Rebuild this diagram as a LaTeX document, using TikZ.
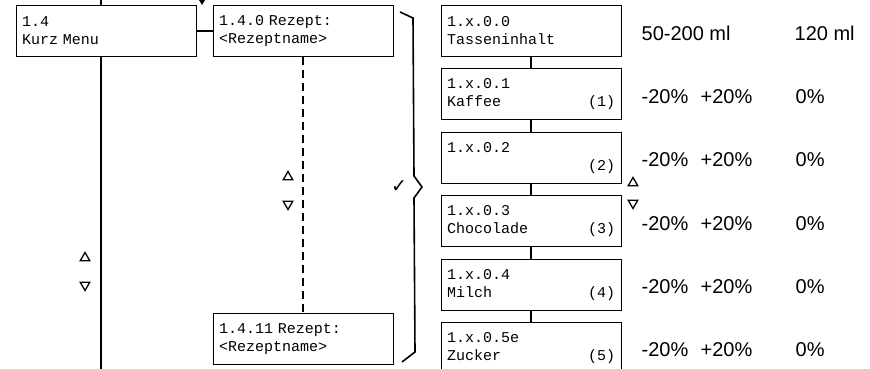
\documentclass[tikz,border=0pt]{standalone}
\usepackage{fontspec}
\setmainfont{Liberation Sans}
\newfontfamily\lcdfont{Liberation Mono}
\newfontfamily\symfont{DejaVu Sans}
\usetikzlibrary{positioning, shapes.geometric}

\begin{document}
\begin{tikzpicture}[x=1pt, y=-1pt,
  menu/.style={draw, line width=0.9pt, minimum width=180pt, minimum height=51pt,
    text width=168pt, inner xsep=6pt, align=left,
    font=\lcdfont\fontsize{15}{18}\selectfont},
  link/.style={line width=2pt},
  val/.style={anchor=west, inner sep=0pt, font=\fontsize{20}{22}\selectfont},
  upkey/.style={regular polygon, regular polygon sides=3, draw, line width=1.3pt,
    minimum size=11pt, inner sep=0pt},
  downkey/.style={upkey, shape border rotate=180}
]
\useasboundingbox (0,0) rectangle (870,369);

% left column
\node[menu] (kurz) at (106,31) {1.4\\Kurz Menu};
\coordinate (ltop) at (101,0);
\coordinate (lbot) at (101,369);
\draw[link] (ltop) -- (ltop |- kurz.north);
\draw[link] (lbot |- kurz.south) -- (lbot);

% recipes
\node[menu] (rz0) at (303,31) {1.4.0 Rezept:\\<Rezeptname>};
\node[menu] (rz11) at (303,339) {1.4.11 Rezept:\\<Rezeptname>};
\draw[link] (kurz.east) -- (rz0.west);
\draw[link, dash pattern=on 8pt off 5pt] (rz0.south) -- (rz11.north);
\fill (199,0) -- (205,0) -- (202,5) -- cycle;

% brace
\draw[line width=1.6pt] (400,12) -- (413,18) -- (414,176) -- (422,187)
  -- (414,198) -- (415,352) -- (402,362);
\node[inner sep=0pt, font=\symfont\fontsize{19}{20}\selectfont] (ok) at (399,187) {✓};

% recipe parameters
\node[menu] (d0) at (531,31) {1.x.0.0\\Tasseninhalt};
\node[menu, below=11.5pt of d0] (d1) {1.x.0.1\\Kaffee\hfill(1)};
\node[menu, below=11.5pt of d1] (d2) {1.x.0.2\\\mbox{}\hfill(2)};
\node[menu, below=11.5pt of d2] (d3) {1.x.0.3\\Chocolade\hfill(3)};
\node[menu, below=11.5pt of d3] (d4) {1.x.0.4\\Milch\hfill(4)};
\node[menu, below=11.5pt of d4] (d5) {1.x.0.5e\\Zucker\hfill(5)};
\foreach \a/\b in {d0/d1, d1/d2, d2/d3, d3/d4, d4/d5}
  \draw[link] (\a.south) -- (\b.north);

% value ranges
\node[val] (min0) at ([xshift=20pt, yshift=-2pt]d0.east) {50-200 ml};
\node[val] (def0) at ([xshift=173pt, yshift=-2pt]d0.east) {120 ml};
\foreach \i in {1,...,5} {
  \node[val] (min\i) at ([xshift=20pt, yshift=-2pt]d\i.east) {-20\%};
  \node[val] (max\i) at ([xshift=79pt, yshift=-2pt]d\i.east) {+20\%};
  \node[val] (def\i) at ([xshift=174pt, yshift=-2pt]d\i.east) {0\%};
}

% up/down keys
\node[upkey] (up1) at (288,177) {};
\node[downkey] (dn1) at (288,204) {};
\node[upkey] (up2) at (85,258) {};
\node[downkey] (dn2) at (85,285) {};
\node[upkey] (up3) at (633,183) {};
\node[downkey] (dn3) at (633,203) {};
\end{tikzpicture}
\end{document}
